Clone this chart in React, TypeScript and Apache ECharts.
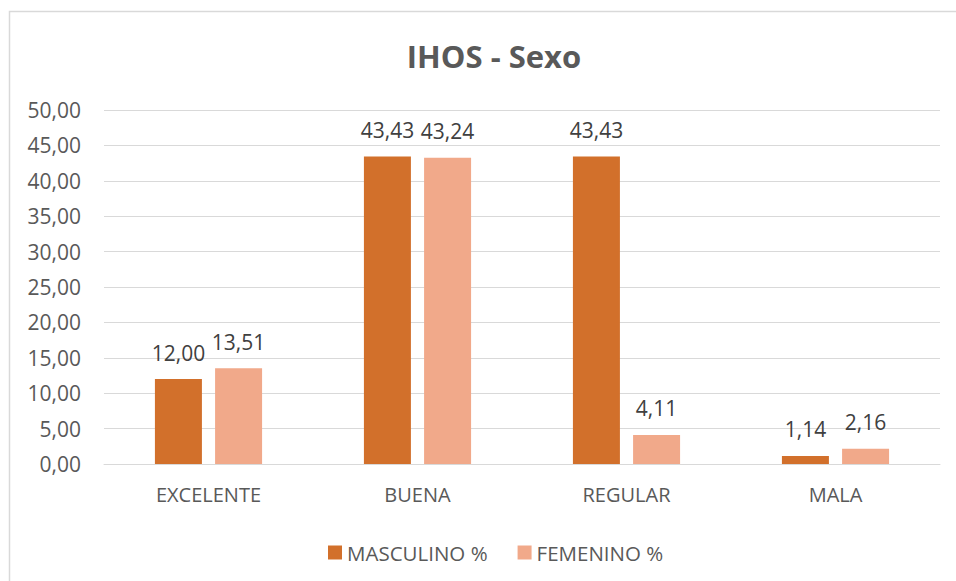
import React, { useEffect, useRef } from "react";
import * as echarts from "echarts";

const categories = ["EXCELENTE", "BUENA", "REGULAR", "MALA"];
const masculino = [12.0, 43.43, 43.43, 1.14];
const femenino = [13.51, 43.24, 4.11, 2.16];
const seriesNames = ["MASCULINO %", "FEMENINO %"];

const fmt = (v: number) => v.toFixed(2).replace(".", ",");
const FONT = "'Open Sans', sans-serif";

export default function App() {
  const ref = useRef<HTMLDivElement>(null);
  useEffect(() => {
    if (!ref.current) return;
    const chart = echarts.init(ref.current, undefined, { renderer: "svg" });
    const label = {
      show: true,
      position: "top",
      distance: 16,
      color: "#404040",
      fontSize: 21,
      fontFamily: FONT,
      formatter: (p: any) => fmt(p.value),
    };
    chart.setOption({
      animation: false,
      backgroundColor: "#ffffff",
      title: {
        text: "IHOS - Sexo",
        left: 489,
        top: 35,
        textAlign: "center",
        textStyle: { color: "#595959", fontSize: 31, fontWeight: "bold", fontFamily: FONT },
      },
      graphic: [
        {
          type: "rect",
          shape: { x: 9.5, y: 11.5, width: 1000, height: 700 },
          style: { fill: "none", stroke: "#D9D9D9", lineWidth: 1.5 },
          silent: true,
        },
      ],
      legend: {
        data: seriesNames,
        left: 323,
        top: 537,
        itemWidth: 14,
        itemHeight: 14,
        itemGap: 30,
        icon: "rect",
        textStyle: { color: "#595959", fontSize: 20.5, fontFamily: FONT },
      } as any,
      grid: { left: 104, right: 16, top: 110, bottom: 117, containLabel: false },
      xAxis: {
        type: "category",
        data: categories,
        axisLine: { lineStyle: { color: "#D9D9D9", width: 1 } },
        axisTick: { show: false },
        axisLabel: { color: "#595959", fontSize: 20, fontFamily: FONT, margin: 20 },
      },
      yAxis: {
        type: "value",
        min: 0,
        max: 50,
        interval: 5,
        axisLine: { show: false },
        axisTick: { show: false },
        splitLine: { lineStyle: { color: "#D9D9D9", width: 1 } },
        axisLabel: { color: "#595959", fontSize: 21, fontFamily: FONT, margin: 23, formatter: fmt },
      },
      series: [
        {
          name: seriesNames[0],
          type: "bar",
          data: masculino,
          barWidth: 47,
          barGap: "28%",
          itemStyle: { color: "#D2702B" },
          label,
        },
        {
          name: seriesNames[1],
          type: "bar",
          data: femenino,
          barWidth: 47,
          barGap: "28%",
          itemStyle: { color: "#F1A98A" },
          label,
        },
      ],
    });
    return () => chart.dispose();
  }, []);
  return (
    <div
      ref={ref}
      style={{ position: "absolute", left: 0, top: 0, width: 956, height: 581 }}
    />
  );
}
